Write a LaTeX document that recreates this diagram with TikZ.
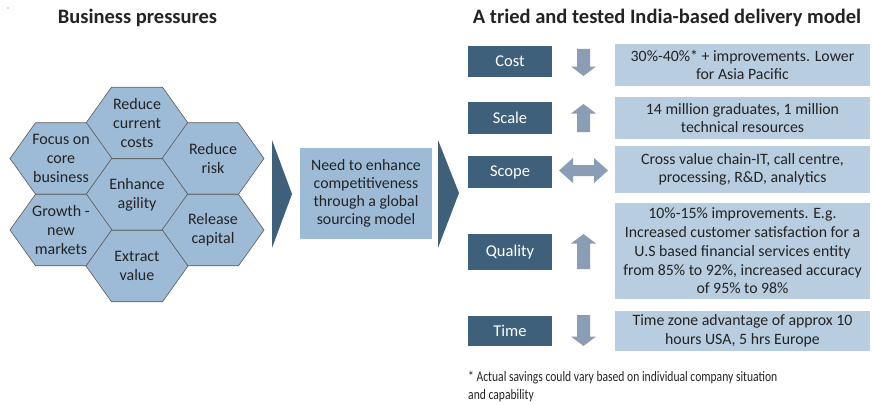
\documentclass[tikz,border=0pt]{standalone}
\usepackage{fontspec}
\setmainfont{Carlito}
\newfontfamily\notefont[FakeStretch=0.8]{Carlito}

\definecolor{hexbleu}{RGB}{157,187,215}
\definecolor{clairbleu}{RGB}{185,205,224}
\definecolor{sombre}{RGB}{63,96,122}
\definecolor{flechegris}{RGB}{139,157,181}
\definecolor{texte}{RGB}{35,35,35}

\tikzset{
  hexa/.style={fill=hexbleu, draw=black!65, line width=0.6pt},
  hexte/.style={text=texte, align=center, font=\fontsize{16}{19}\selectfont},
  titre/.style={text=texte, font=\fontsize{20.5}{24}\selectfont\bfseries},
  etiquette/.style={fill=sombre, text=white, minimum width=84, font=\fontsize{16.5}{18}\selectfont},
  detail/.style={fill=clairbleu, text=texte, align=center, minimum width=255, font=\fontsize{15.8}{18.7}\selectfont},
  flechep/.style={fill=flechegris},
}

% alvéole : nom, x, y, texte
\newcommand{\alveole}[4]{
  \draw[hexa] (#2-51,#3) -- (#2-25.5,#3-35.75) -- (#2+25.5,#3-35.75)
    -- (#2+51,#3) -- (#2+25.5,#3+35.75) -- (#2-25.5,#3+35.75) -- cycle;
  \node[hexte] (#1) at (#2,#3) {#4};
}
% flèches verticales : haut, bas
\newcommand{\flechebas}[2]{
  \fill[flechep] (577,#1) -- (590,#1) -- (590,#2-9.5) -- (596,#2-9.5)
    -- (583.5,#2) -- (571,#2-9.5) -- (577,#2-9.5) -- cycle;
}
\newcommand{\flechehaut}[2]{
  \fill[flechep] (577,#2) -- (590,#2) -- (590,#1+9.5) -- (596,#1+9.5)
    -- (583.5,#1) -- (571,#1+9.5) -- (577,#1+9.5) -- cycle;
}

\begin{document}
\begin{tikzpicture}[x=1pt, y=-1pt]
  \useasboundingbox (0,0) rectangle (872,404);
  \fill[black!60] (8,8) circle (0.6);

  % Titres
  \node[titre] (t1) at (137.5,18) {Business pressures};
  \node[titre] (t2) at (667,18) {A tried and tested India-based delivery model};

  % Alvéoles
  \alveole{cout}{137}{123}{Reduce\\current\\costs}
  \alveole{focus}{61}{158.5}{Focus on\\core\\business}
  \alveole{risque}{213}{158.5}{Reduce\\risk}
  \alveole{agilite}{137}{194.5}{Enhance\\agility}
  \alveole{croissance}{61}{230}{Growth -\\new\\markets}
  \alveole{capital}{213}{230}{Release\\capital}
  \alveole{valeur}{137}{266}{Extract\\value}

  % Chevrons
  \fill[sombre] (272,140) -- (292,194) -- (272,248) -- cycle;
  \node[fill=hexbleu, text=texte, align=center, minimum width=132, minimum height=91,
        font=\fontsize{15.8}{18}\selectfont] (besoin) at (366,193.5)
        {Need to enhance\\competitiveness\\through a global\\sourcing model};
  \fill[sombre] (438,140) -- (459,193) -- (438,248) -- cycle;

  % Étiquettes
  \node[etiquette, minimum height=31] (e1) at (510,61.5) {Cost};
  \node[etiquette, minimum height=32] (e2) at (510,118) {Scale};
  \node[etiquette, minimum height=32] (e3) at (510,172) {Scope};
  \node[etiquette, minimum height=36] (e4) at (510,252) {Quality};
  \node[etiquette, minimum height=30] (e5) at (510,331) {Time};

  % Flèches
  \flechebas{49}{76}
  \flechehaut{104}{132}
  \fill[flechep] (559,170.5) -- (573,158) -- (573,165) -- (594,165) -- (594,158)
    -- (608,170.5) -- (594,183) -- (594,176) -- (573,176) -- (573,183) -- cycle;
  \flechehaut{234}{269}
  \flechebas{315}{346}

  % Détails
  \node[detail, minimum height=42] (d1) at (742.5,65)
    {30\%-40\%* + improvements. Lower\\for Asia Pacific};
  \node[detail, minimum height=42] (d2) at (742.5,118)
    {14 million graduates, 1 million\\technical resources};
  \node[detail, minimum height=47] (d3) at (742.5,169.5)
    {Cross value chain-IT, call centre,\\processing, R\&D, analytics};
  \node[detail, minimum height=96] (d4) at (742.5,251)
    {10\%-15\% improvements. E.g.\\Increased customer satisfaction for a\\U.S based financial services entity\\from 85\% to 92\%, increased accuracy\\of 95\% to 98\%};
  \node[detail, minimum height=40] (d5) at (742.5,331)
    {Time zone advantage of approx 10\\hours USA, 5 hrs Europe};

  % Note
  \node[anchor=north west, text=texte, align=left, inner sep=0,
        font=\notefont\fontsize{14.5}{18}\selectfont] (note) at (468,371)
    {* Actual savings could vary based on individual company situation\\and capability};
\end{tikzpicture}
\end{document}
